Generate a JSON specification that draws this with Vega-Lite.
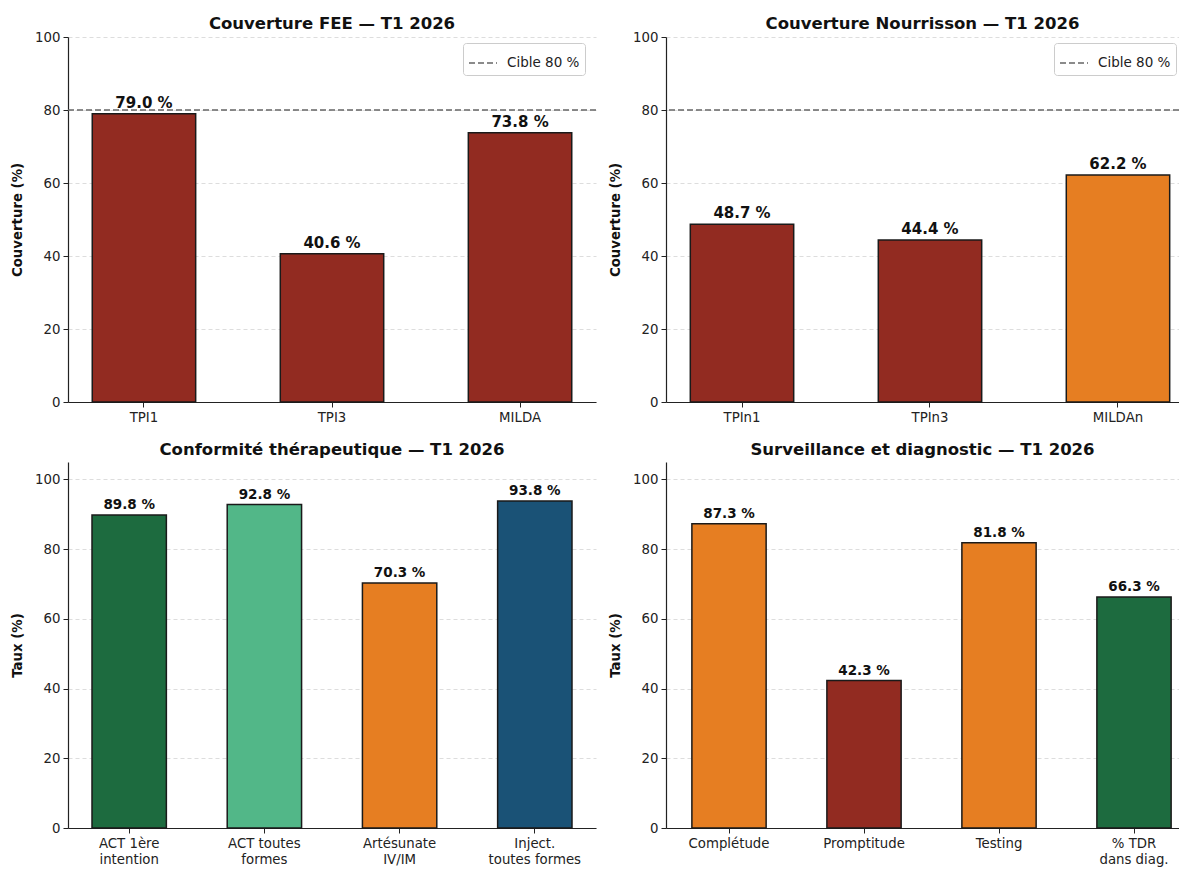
{
  "$schema": "https://vega.github.io/schema/vega-lite/v6.json",
  "background": "white",
  "padding": {"left": 10, "top": 15, "right": 0, "bottom": 1},
  "bounds": "flush",
  "columns": 2,
  "spacing": {"row": 60, "column": 70},
  "resolve": {
    "scale": {"color": "independent", "strokeDash": "independent", "x": "independent", "y": "independent"},
    "legend": {"color": "independent", "strokeDash": "independent"}
  },
  "concat": [
    {
      "width": 528, "height": 365,
      "title": {"text": "Couverture FEE — T1 2026", "offset": -2},
      "layer": [
        {
          "data": {"values": [
            {"indicateur": "TPI1", "valeur": 79.0},
            {"indicateur": "TPI3", "valeur": 40.6},
            {"indicateur": "MILDA", "valeur": 73.8}
          ]},
          "transform": [{"calculate": "format(datum.valeur, '.1f') + ' %'", "as": "etiquette"}],
          "layer": [
            {
              "mark": {"type": "bar", "stroke": "#1a1a1a", "strokeWidth": 1.5},
              "encoding": {
                "x": {"field": "indicateur", "type": "nominal", "sort": null, "title": null,
                      "scale": {"paddingInner": 0.45, "paddingOuter": 0.129},
                      "axis": {"labelAngle": 0}},
                "y": {"field": "valeur", "type": "quantitative", "title": "Couverture (%)",
                      "scale": {"domain": [0, 100], "nice": false},
                      "axis": {"values": [0, 20, 40, 60, 80, 100]}},
                "color": {"field": "indicateur", "type": "nominal", "legend": null,
                          "scale": {"domain": ["TPI1", "TPI3", "MILDA"], "range": ["#922B21", "#922B21", "#922B21"]}}
              }
            },
            {
              "mark": {"type": "text", "baseline": "bottom", "dy": -3, "fontWeight": "bold", "fontSize": 15, "color": "#111"},
              "encoding": {
                "x": {"field": "indicateur", "type": "nominal", "sort": null},
                "y": {"field": "valeur", "type": "quantitative", "title": "Couverture (%)"},
                "text": {"field": "etiquette"}
              }
            }
          ]
        },
        {
          "data": {"values": [{"cible": 80, "serie": "Cible 80 %"}]},
          "mark": {"type": "rule", "color": "#666666", "strokeWidth": 1.5},
          "encoding": {
            "y": {"field": "cible", "type": "quantitative", "title": "Couverture (%)"},
            "strokeDash": {"field": "serie", "type": "nominal",
                           "scale": {"range": [[6, 3]]},
                           "legend": {"orient": "none", "legendX": 395, "legendY": 6, "title": null}}
          }
        }
      ]
    },
    {
      "width": 513, "height": 365,
      "title": {"text": "Couverture Nourrisson — T1 2026", "offset": -2},
      "layer": [
        {
          "data": {"values": [
            {"indicateur": "TPIn1", "valeur": 48.7},
            {"indicateur": "TPIn3", "valeur": 44.4},
            {"indicateur": "MILDAn", "valeur": 62.2}
          ]},
          "transform": [{"calculate": "format(datum.valeur, '.1f') + ' %'", "as": "etiquette"}],
          "layer": [
            {
              "mark": {"type": "bar", "stroke": "#1a1a1a", "strokeWidth": 1.5},
              "encoding": {
                "x": {"field": "indicateur", "type": "nominal", "sort": null, "title": null,
                      "scale": {"paddingInner": 0.45, "paddingOuter": 0.0894, "align": 0.723},
                      "axis": {"labelAngle": 0}},
                "y": {"field": "valeur", "type": "quantitative", "title": "Couverture (%)",
                      "scale": {"domain": [0, 100], "nice": false},
                      "axis": {"values": [0, 20, 40, 60, 80, 100]}},
                "color": {"field": "indicateur", "type": "nominal", "legend": null,
                          "scale": {"domain": ["TPIn1", "TPIn3", "MILDAn"], "range": ["#922B21", "#922B21", "#E67E22"]}}
              }
            },
            {
              "mark": {"type": "text", "baseline": "bottom", "dy": -3, "fontWeight": "bold", "fontSize": 15, "color": "#111"},
              "encoding": {
                "x": {"field": "indicateur", "type": "nominal", "sort": null},
                "y": {"field": "valeur", "type": "quantitative", "title": "Couverture (%)"},
                "text": {"field": "etiquette"}
              }
            }
          ]
        },
        {
          "data": {"values": [{"cible": 80, "serie": "Cible 80 %"}]},
          "mark": {"type": "rule", "color": "#666666", "strokeWidth": 1.5},
          "encoding": {
            "y": {"field": "cible", "type": "quantitative", "title": "Couverture (%)"},
            "strokeDash": {"field": "serie", "type": "nominal",
                           "scale": {"range": [[6, 3]]},
                           "legend": {"orient": "none", "legendX": 388, "legendY": 6, "title": null}}
          }
        }
      ]
    },
    {
      "width": 528, "height": 366,
      "title": {"text": "Conformité thérapeutique — T1 2026"},
      "data": {"values": [
        {"indicateur": "ACT 1ère\nintention", "valeur": 89.8},
        {"indicateur": "ACT toutes\nformes", "valeur": 92.8},
        {"indicateur": "Artésunate\nIV/IM", "valeur": 70.3},
        {"indicateur": "Inject.\ntoutes formes", "valeur": 93.8}
      ]},
      "transform": [{"calculate": "format(datum.valeur, '.1f') + ' %'", "as": "etiquette"}],
      "layer": [
        {
          "mark": {"type": "bar", "stroke": "#1a1a1a", "strokeWidth": 1.5},
          "encoding": {
            "x": {"field": "indicateur", "type": "nominal", "sort": null, "title": null,
                  "scale": {"paddingInner": 0.45, "paddingOuter": 0.1775},
                  "axis": {"labelAngle": 0, "labelExpr": "split(datum.label, '\\n')"}},
            "y": {"field": "valeur", "type": "quantitative", "title": "Taux (%)",
                  "scale": {"domain": [0, 105], "nice": false},
                  "axis": {"values": [0, 20, 40, 60, 80, 100]}},
            "color": {"field": "indicateur", "type": "nominal", "legend": null,
                      "scale": {"domain": ["ACT 1ère\nintention", "ACT toutes\nformes", "Artésunate\nIV/IM", "Inject.\ntoutes formes"],
                                "range": ["#1D6B3F", "#52B788", "#E67E22", "#1A5276"]}}
          }
        },
        {
          "mark": {"type": "text", "baseline": "bottom", "dy": -3, "fontWeight": "bold", "fontSize": 13.5, "color": "#111"},
          "encoding": {
            "x": {"field": "indicateur", "type": "nominal", "sort": null},
            "y": {"field": "valeur", "type": "quantitative", "title": "Taux (%)"},
            "text": {"field": "etiquette"}
          }
        }
      ]
    },
    {
      "width": 513, "height": 366,
      "title": {"text": "Surveillance et diagnostic — T1 2026"},
      "data": {"values": [
        {"indicateur": "Complétude", "valeur": 87.3},
        {"indicateur": "Promptitude", "valeur": 42.3},
        {"indicateur": "Testing", "valeur": 81.8},
        {"indicateur": "% TDR\ndans diag.", "valeur": 66.3}
      ]},
      "transform": [{"calculate": "format(datum.valeur, '.1f') + ' %'", "as": "etiquette"}],
      "layer": [
        {
          "mark": {"type": "bar", "stroke": "#1a1a1a", "strokeWidth": 1.5},
          "encoding": {
            "x": {"field": "indicateur", "type": "nominal", "sort": null, "title": null,
                  "scale": {"paddingInner": 0.45, "paddingOuter": 0.125, "align": 0.767},
                  "axis": {"labelAngle": 0, "labelExpr": "split(datum.label, '\\n')"}},
            "y": {"field": "valeur", "type": "quantitative", "title": "Taux (%)",
                  "scale": {"domain": [0, 105], "nice": false},
                  "axis": {"values": [0, 20, 40, 60, 80, 100]}},
            "color": {"field": "indicateur", "type": "nominal", "legend": null,
                      "scale": {"domain": ["Complétude", "Promptitude", "Testing", "% TDR\ndans diag."],
                                "range": ["#E67E22", "#922B21", "#E67E22", "#1D6B3F"]}}
          }
        },
        {
          "mark": {"type": "text", "baseline": "bottom", "dy": -3, "fontWeight": "bold", "fontSize": 13.5, "color": "#111"},
          "encoding": {
            "x": {"field": "indicateur", "type": "nominal", "sort": null},
            "y": {"field": "valeur", "type": "quantitative", "title": "Taux (%)"},
            "text": {"field": "etiquette"}
          }
        }
      ]
    }
  ],
  "config": {
    "font": "DejaVu Sans",
    "view": {"stroke": null},
    "axis": {
      "domainColor": "#222222", "domainWidth": 1.2, "tickColor": "#222222", "tickSize": 5,
      "labelColor": "#222222", "labelFontSize": 13.3, "labelPadding": 3,
      "titleFontSize": 13.3, "titleFontWeight": "bold", "titleColor": "#111111"
    },
    "axisX": {"grid": false, "labelLineHeight": 16},
    "axisY": {"grid": true, "gridDash": [4, 3], "gridColor": "#dddddd", "titlePadding": 10},
    "title": {"fontSize": 16.5, "fontWeight": "bold", "color": "#111111", "offset": 0},
    "legend": {
      "symbolType": "stroke", "symbolStrokeColor": "#666666", "symbolStrokeWidth": 1.5, "symbolSize": 784,
      "labelFontSize": 13.5, "labelColor": "#222222", "labelOffset": 9, "strokeColor": "#cccccc", "fillColor": "white",
      "padding": 5, "cornerRadius": 3
    }
  }
}
